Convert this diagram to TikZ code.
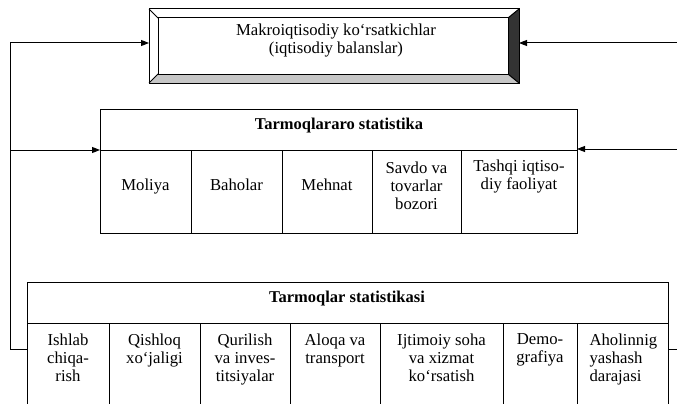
\documentclass[tikz,border=0pt]{standalone}
\usepackage{fontspec}
\setmainfont{Liberation Serif}
\usetikzlibrary{arrows.meta,calc}
\begin{document}
\begin{tikzpicture}[x=1pt,y=-1pt,
  line width=1pt,
  box/.style={draw, rectangle, inner sep=0pt, outer sep=0pt, anchor=north west},
  txt/.style={font=\fontsize{16.7}{18}\selectfont, align=center, inner sep=0pt, anchor=north},
  hdr/.style={font=\fontsize{16.5}{18}\selectfont\bfseries, inner sep=0pt},
  arr/.style={-{Triangle[length=8pt,width=6pt]}},
]
\clip (0,0) rectangle (677,404);
% top bevelled box
\node[box, minimum width=370pt, minimum height=74pt] (makro) at (149,9) {};
\node[box, minimum width=350pt, minimum height=56pt] (makroin) at (158,18) {};
\fill[gray!45] (makro.south west) -- (makro.south east) -- (makroin.south east) -- (makroin.south west) -- cycle;
\fill[black!80] (makro.north east) -- (makro.south east) -- (makroin.south east) -- (makroin.north east) -- cycle;
\draw (makro.north west) rectangle (makro.south east);
\draw (makroin.north west) rectangle (makroin.south east);
\draw (makro.north west) -- (makroin.north west);
\draw (makro.south west) -- (makroin.south west);
\draw (makro.north east) -- (makroin.north east);
\draw (makro.south east) -- (makroin.south east);
\node[txt, anchor=center] (makrotxt) at (336,41) {Makroiqtisodiy ko‘rsatkichlar\\(iqtisodiy balanslar)};

% middle block
\node[box, minimum width=477pt, minimum height=41pt] (mh) at (100,109) {};
\node[hdr] (mhtxt) at (339,126) {Tarmoqlararo statistika};
\node[box, minimum width=91pt, minimum height=83pt] (m1) at (100,150) {};
\node[box, minimum width=91pt, minimum height=83pt] (m2) at (191,150) {};
\node[box, minimum width=90pt, minimum height=83pt] (m3) at (282,150) {};
\node[box, minimum width=89pt, minimum height=83pt] (m4) at (372,150) {};
\node[box, minimum width=116pt, minimum height=83pt] (m5) at (461,150) {};
\node[txt] (t1) at (145.5,178) {Moliya};
\node[txt] (t2) at (236.5,178) {Baholar};
\node[txt] (t3) at (327,178) {Mehnat};
\node[txt] (t4) at (416.5,161) {Savdo va\\tovarlar\\bozori};
\node[txt] (t5) at (519,159) {Tashqi iqtiso-\\diy faoliyat};

% bottom block
\node[box, minimum width=641pt, minimum height=41pt] (bh) at (27,282) {};
\node[hdr] (bhtxt) at (347,299) {Tarmoqlar statistikasi};
\node[box, minimum width=82pt, minimum height=100pt] (b1) at (27,323) {};
\node[box, minimum width=91pt, minimum height=100pt] (b2) at (109,323) {};
\node[box, minimum width=90pt, minimum height=100pt] (b3) at (200,323) {};
\node[box, minimum width=90pt, minimum height=100pt] (b4) at (290,323) {};
\node[box, minimum width=123pt, minimum height=100pt] (b5) at (380,323) {};
\node[box, minimum width=74pt, minimum height=100pt] (b6) at (503,323) {};
\node[box, minimum width=91pt, minimum height=100pt] (b7) at (577,323) {};
\node[txt] (s1) at (68,333) {Ishlab\\chiqa-\\rish};
\node[txt] (s2) at (154.5,333) {Qishloq\\xo‘jaligi};
\node[txt] (s3) at (245,333) {Qurilish\\va inves-\\titsiyalar};
\node[txt] (s4) at (335,333) {Aloqa va\\transport};
\node[txt] (s5) at (441.5,333) {Ijtimoiy soha\\va xizmat\\ko‘rsatish};
\node[txt] (s6) at (540,333) {Demo-\\grafiya};
\node[txt, align=left, anchor=north west] (s7) at (589,333) {Aholinnig\\yashash\\darajasi};

% connectors
\coordinate (L1) at (10,43);
\coordinate (L2) at (10,150);
\coordinate (L3) at (10,349);
\coordinate (R1) at (680,43);
\coordinate (R2) at (680,149);
\coordinate (R3) at (680,349);
\draw[arr] (L1) -- (L1 -| makro.west);
\draw (L1) -- (L3) -- (L3 -| b1.west);
\draw[arr] (L2) -- (L2 -| m1.west);
\draw[arr] (R1) -- (R1 -| makro.east);
\draw[arr] (R2) -- (R2 -| m5.east);
\draw (R3) -- (R3 -| b7.east);
\end{tikzpicture}
\end{document}
